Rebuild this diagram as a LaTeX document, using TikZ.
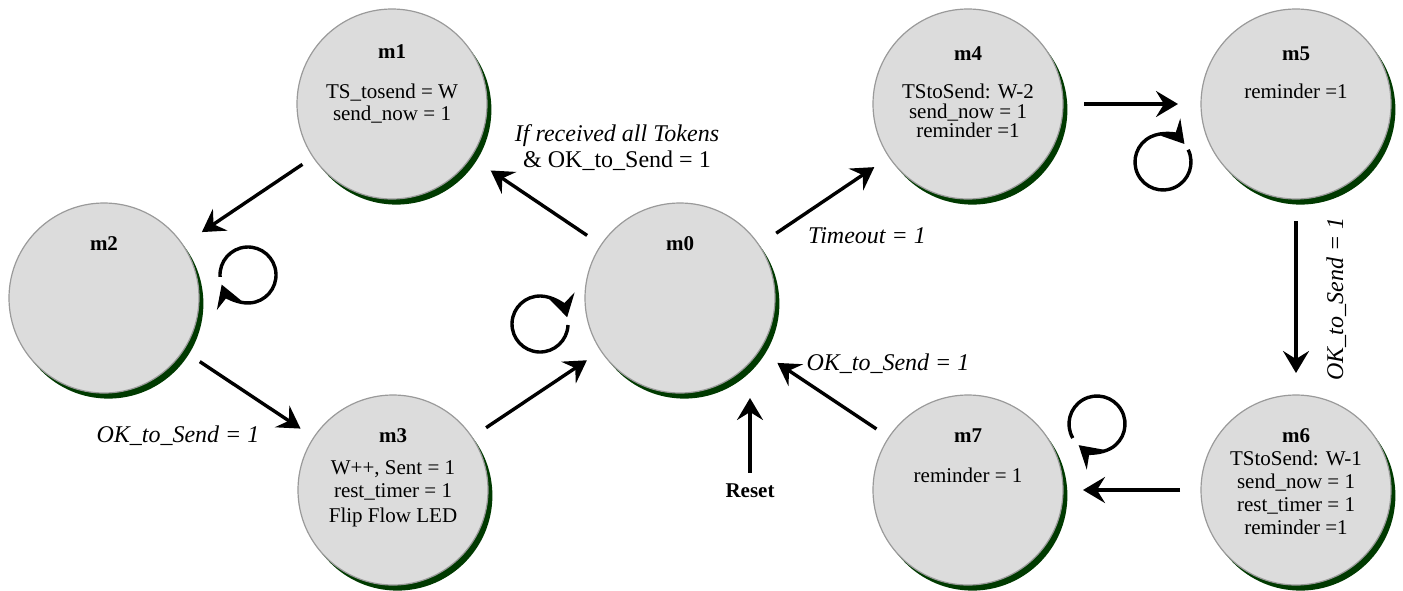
\documentclass[tikz,border=0pt]{standalone}
\usepackage{fontspec}
\setmainfont{Liberation Serif}
\usetikzlibrary{arrows.meta,shadows}
\definecolor{stategray}{HTML}{DCDCDC}
\definecolor{rimgray}{HTML}{9A9A9A}
\definecolor{shadegreen}{HTML}{003A00}

\begin{document}
\begin{tikzpicture}[x=0.5pt,y=-0.5pt,
  state/.style={circle, minimum size=95pt, inner sep=0pt, draw=rimgray,
    line width=0.6pt, fill=stategray,
    drop shadow={shadow xshift=2.2pt, shadow yshift=-2.8pt, fill=shadegreen, opacity=1}},
  tr/.style={-{Stealth[length=11pt,width=13pt,inset=4pt]}, line width=1.7pt},
  ttl/.style={anchor=base, inner sep=0pt, font=\fontsize{10.5}{12}\selectfont\bfseries},
  txt/.style={anchor=base, inner sep=0pt, font=\fontsize{10.5}{12}\selectfont},
  cond/.style={anchor=base, inner sep=0pt, font=\fontsize{12}{14}\selectfont\itshape},
  condup/.style={anchor=base, inner sep=0pt, font=\fontsize{12}{14}\selectfont}]

\useasboundingbox (0,0) rectangle (1403,590);

% states
\node[state] (m0) at (680,298) {};
\node[state] (m1) at (392,104) {};
\node[state] (m2) at (104,298) {};
\node[state] (m3) at (393,490) {};
\node[state] (m4) at (968,104) {};
\node[state] (m5) at (1296,104) {};
\node[state] (m6) at (1296,490) {};
\node[state] (m7) at (968,490) {};

% state contents
\node[ttl] (m0t) at (680,250) {m0};
\node[ttl] (m2t) at (104,250) {m2};

\node[ttl] (m1t) at (392,58) {m1};
\node[txt] (m1a) at (392,98) {TS\_tosend = W};
\node[txt] (m1b) at (392,120) {send\_now = 1};

\node[ttl] (m3t) at (393,442) {m3};
\node[txt] (m3a) at (393,474) {W++, Sent = 1};
\node[txt] (m3b) at (393,497) {rest\_timer = 1};
\node[txt] (m3c) at (393,522) {Flip Flow LED};

\node[ttl] (m4t) at (968,60) {m4};
\node[txt] (m4a) at (968,98) {TStoSend: W-2};
\node[txt] (m4b) at (968,118) {send\_now = 1};
\node[txt] (m4c) at (968,137) {reminder =1};

\node[ttl] (m5t) at (1296,60) {m5};
\node[txt] (m5a) at (1296,98) {reminder =1};

\node[ttl] (m6t) at (1296,442) {m6};
\node[txt] (m6a) at (1296,465) {TStoSend: W-1};
\node[txt] (m6b) at (1296,488) {send\_now = 1};
\node[txt] (m6c) at (1296,511) {rest\_timer = 1};
\node[txt] (m6d) at (1296,534) {reminder =1};

\node[ttl] (m7t) at (968,442) {m7};
\node[txt] (m7a) at (968,482) {reminder = 1};

% transitions
\draw[tr, shorten <=54pt, shorten >=59pt] (m1.center) -- (m2.center);
\draw[tr, shorten <=57.5pt, shorten >=55.5pt] (m2.center) -- (m3.center);
\draw[tr, shorten <=56pt, shorten >=56pt] (m3.center) -- (m0.center);
\draw[tr, shorten <=56pt, shorten >=59.5pt] (m0.center) -- (m1.center);
\draw[tr, shorten <=58pt, shorten >=56.5pt] (m0.center) -- (m4.center);
\draw[tr, shorten <=58pt, shorten >=59pt] (m4.center) -- (m5.center);
\draw[tr, shorten <=58.5pt, shorten >=58.5pt] (m5.center) -- (m6.center);
\draw[tr, shorten <=58pt, shorten >=57.5pt] (m6.center) -- (m7.center);
\draw[tr, shorten <=55pt, shorten >=58.5pt] (m7.center) -- (m0.center);

% reset input
\node[anchor=base, inner sep=0pt, font=\fontsize{10.5}{12}\selectfont\bfseries] (reset) at (750,497) {Reset};
\coordinate (resettip) at (750,398);
\draw[tr, shorten <=5pt] (reset.north) -- (resettip);

% self loops
\coordinate (m2loop) at (248,275);
\coordinate (m0loop) at (540,324);
\coordinate (m5loop) at (1163,162);
\coordinate (m7loop) at (1097,424);
\draw[tr] (m2loop) ++(184:14pt) arc[start angle=184, end angle=-160, radius=14pt];
\draw[tr] (m0loop) ++(-2:14pt) arc[start angle=-2, end angle=-346, radius=14pt];
\draw[tr] (m5loop) ++(26:14pt) arc[start angle=26, end angle=-320, radius=14pt];
\draw[tr] (m7loop) ++(210:14pt) arc[start angle=210, end angle=-131, radius=14pt];

% transition conditions
\node[cond] (c01a) at (617,141) {If received all Tokens};
\node[condup] (c01b) at (617,167) {\& OK\_to\_Send = 1};
\node[cond] (c04) at (867,243) {Timeout = 1};
\node[cond] (c23) at (178,442) {OK\_to\_Send = 1};
\node[cond] (c70) at (888,370) {OK\_to\_Send = 1};
\node[cond, rotate=90] (c56) at (1343,299) {OK\_to\_Send = 1};

\end{tikzpicture}
\end{document}
